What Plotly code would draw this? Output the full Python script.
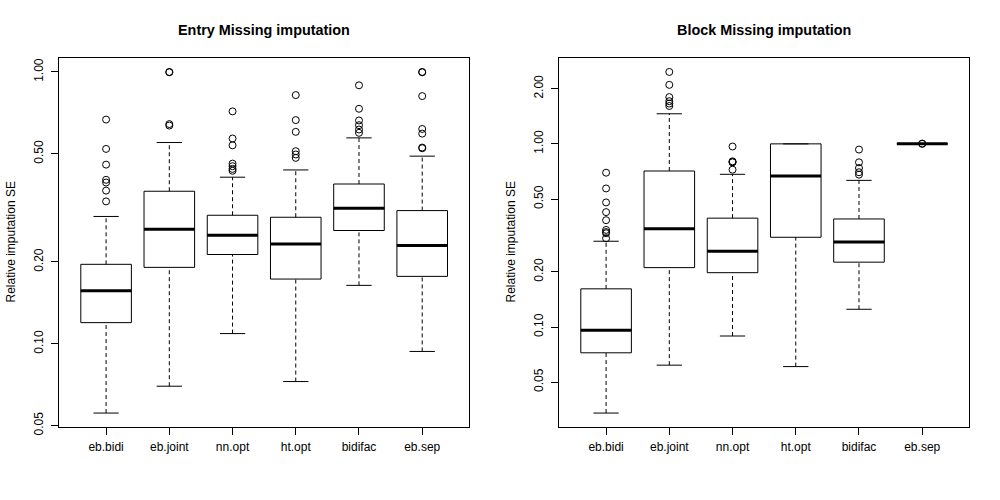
import numpy as np
import plotly.graph_objects as go

categories = ["eb.bidi", "eb.joint", "nn.opt", "ht.opt", "bidifac", "eb.sep"]

# ---- Entry Missing imputation ----
entry_lower = [0.0556, 0.0698, 0.109, 0.0726, 0.164, 0.0937]
entry_q1 = [0.1196, 0.191, 0.213, 0.173, 0.261, 0.177]
entry_median = [0.1566, 0.264, 0.2506, 0.233, 0.315, 0.230]
entry_q3 = [0.196, 0.364, 0.297, 0.292, 0.387, 0.309]
entry_upper = [0.294, 0.550, 0.410, 0.436, 0.572, 0.490]
entry_outliers = [
    [0.668, 0.521, 0.456, 0.401, 0.392, 0.366, 0.334],
    [1.0, 0.997, 0.643, 0.635],
    [0.716, 0.569, 0.537, 0.460, 0.450, 0.440, 0.433],
    [0.822, 0.665, 0.602, 0.511, 0.497, 0.483],
    [0.893, 0.732, 0.663, 0.637, 0.614, 0.597],
    [1.0, 0.997, 0.815, 0.617, 0.593, 0.527, 0.524],
]

# ---- Block Missing imputation ----
block_lower = [0.0339, 0.0619, 0.0893, 0.0608, 0.125, 1.0]
block_q1 = [0.0723, 0.211, 0.198, 0.309, 0.226, 1.0]
block_median = [0.0959, 0.344, 0.259, 0.667, 0.291, 1.0]
block_q3 = [0.1616, 0.711, 0.393, 1.0, 0.389, 1.0]
block_upper = [0.294, 1.46, 0.682, 1.0, 0.632, 1.0]
block_outliers = [
    [0.696, 0.571, 0.479, 0.424, 0.383, 0.339, 0.330, 0.325, 0.305],
    [2.47, 2.10, 1.80, 1.71, 1.66, 1.61],
    [0.967, 0.803, 0.796, 0.793, 0.723],
    [],
    [0.931, 0.793, 0.738, 0.700, 0.679],
    [1.0, 1.004],
]

entry_ticks = [0.05, 0.10, 0.20, 0.50, 1.00]
block_ticks = [0.05, 0.10, 0.20, 0.50, 1.00, 2.00]

titles = ["Entry Missing imputation", "Block Missing imputation"]
ytitle = "Relative imputation SE"

FONT = "Liberation Sans, Arial, sans-serif"
W, H = 1000, 500          # reference picture size used for paper fractions
BOXW = 0.8
CAPW = 0.4


def px(xp):
    return xp / W


def py(yp):
    return (H - yp) / H


fig = go.Figure()


def add_panel(k, lower, q1, med, q3, upper, outliers):
    xa = "x" if k == 0 else "x2"
    ya = "y" if k == 0 else "y2"
    pos = list(range(1, len(categories) + 1))
    # boxes
    fig.add_trace(go.Box(
        x=pos, q1=q1, median=med, q3=q3, lowerfence=q1, upperfence=q3,
        width=BOXW, whiskerwidth=0, fillcolor="white",
        line=dict(color="black", width=1), boxpoints=False,
        xaxis=xa, yaxis=ya, showlegend=False, hoverinfo="skip"))
    # whiskers (dashed)
    wx, wy = [], []
    for p, a, b, c, d in zip(pos, lower, q1, q3, upper):
        wx += [p, p, None, p, p, None]
        wy += [a, b, None, c, d, None]
    fig.add_trace(go.Scatter(x=wx, y=wy, mode="lines",
                             line=dict(color="black", width=1, dash="4px,3px"),
                             xaxis=xa, yaxis=ya, showlegend=False, hoverinfo="skip"))
    # staples
    sx, sy = [], []
    for p, a, d in zip(pos, lower, upper):
        sx += [p - CAPW / 2, p + CAPW / 2, None, p - CAPW / 2, p + CAPW / 2, None]
        sy += [a, a, None, d, d, None]
    fig.add_trace(go.Scatter(x=sx, y=sy, mode="lines",
                             line=dict(color="black", width=1),
                             xaxis=xa, yaxis=ya, showlegend=False, hoverinfo="skip"))
    # medians
    mx, my = [], []
    for p, m in zip(pos, med):
        mx += [p - BOXW / 2, p + BOXW / 2, None]
        my += [m, m, None]
    fig.add_trace(go.Scatter(x=mx, y=my, mode="lines",
                             line=dict(color="black", width=3),
                             xaxis=xa, yaxis=ya, showlegend=False, hoverinfo="skip"))
    # outliers
    ox, oy = [], []
    for p, vals in zip(pos, outliers):
        ox += [p] * len(vals)
        oy += list(vals)
    fig.add_trace(go.Scatter(x=ox, y=oy, mode="markers",
                             marker=dict(symbol="circle-open", size=7, color="black",
                                         line=dict(width=1, color="black")),
                             xaxis=xa, yaxis=ya, showlegend=False, hoverinfo="skip"))


add_panel(0, entry_lower, entry_q1, entry_median, entry_q3, entry_upper, entry_outliers)
add_panel(1, block_lower, block_q1, block_median, block_q3, block_upper, block_outliers)


def yrange(lower, upper, outliers):
    allv = list(lower) + list(upper) + [v for o in outliers for v in o]
    lo, hi = np.log10(min(allv)), np.log10(max(allv))
    pad = 0.04 * (hi - lo)
    return [lo - pad, hi + pad]


n = len(categories)
xr = [0.5 - 0.04 * n, n + 0.5 + 0.04 * n]

plot_top, plot_bot = 58.3, 426.7
ydom = [py(plot_bot), py(plot_top)]
xdoms = [[px(59.3), px(469.0)], [px(559.3), px(969.0)]]

common_x = dict(range=xr, tickvals=list(range(1, n + 1)), ticktext=categories,
                ticks="outside", ticklen=7, tickcolor="black", tickwidth=1,
                ticklabelstandoff=2,
                showline=True, linecolor="black", linewidth=1, mirror=True,
                showgrid=False, zeroline=False,
                tickfont=dict(family=FONT, size=12, color="black"))


def yaxis_cfg(rng, ticks, anchor):
    return dict(type="log", range=rng, tickvals=ticks,
                ticktext=["%.2f" % t for t in ticks], tickangle=-90,
                ticks="outside", ticklen=7, tickcolor="black", tickwidth=1,
                ticklabelstandoff=4,
                showline=True, linecolor="black", linewidth=1, mirror=True,
                showgrid=False, zeroline=False, domain=ydom, anchor=anchor,
                tickfont=dict(family=FONT, size=12, color="black"))


fig.update_layout(
    autosize=True,
    margin=dict(l=0, r=0, t=0, b=0, autoexpand=False),
    paper_bgcolor="white", plot_bgcolor="white",
    font=dict(family=FONT, size=12, color="black"),
    showlegend=False,
    xaxis=dict(common_x, domain=xdoms[0], anchor="y"),
    xaxis2=dict(common_x, domain=xdoms[1], anchor="y2"),
    yaxis=yaxis_cfg(yrange(entry_lower, entry_upper, entry_outliers), entry_ticks, "x"),
    yaxis2=yaxis_cfg(yrange(block_lower, block_upper, block_outliers), block_ticks, "x2"),
)

annots = []
for k in range(2):
    cx = (xdoms[k][0] + xdoms[k][1]) / 2
    annots.append(dict(text="<b>%s</b>" % titles[k], x=cx, y=py(30),
                       xref="paper", yref="paper", showarrow=False,
                       xanchor="center", yanchor="middle",
                       font=dict(family=FONT, size=14.4, color="black")))
    annots.append(dict(text=ytitle, x=px(10 + 500 * k), y=(ydom[0] + ydom[1]) / 2,
                       xref="paper", yref="paper", showarrow=False, textangle=-90,
                       xanchor="center", yanchor="middle",
                       font=dict(family=FONT, size=12, color="black")))
fig.update_layout(annotations=annots)

# figure fills the browser viewport; drop the default page margin
fig.write_html("out.html",
               default_width="100vw", default_height="100vh",
               config={"displayModeBar": False},
               post_script="document.body.style.margin='0';document.body.style.overflow='hidden';")
